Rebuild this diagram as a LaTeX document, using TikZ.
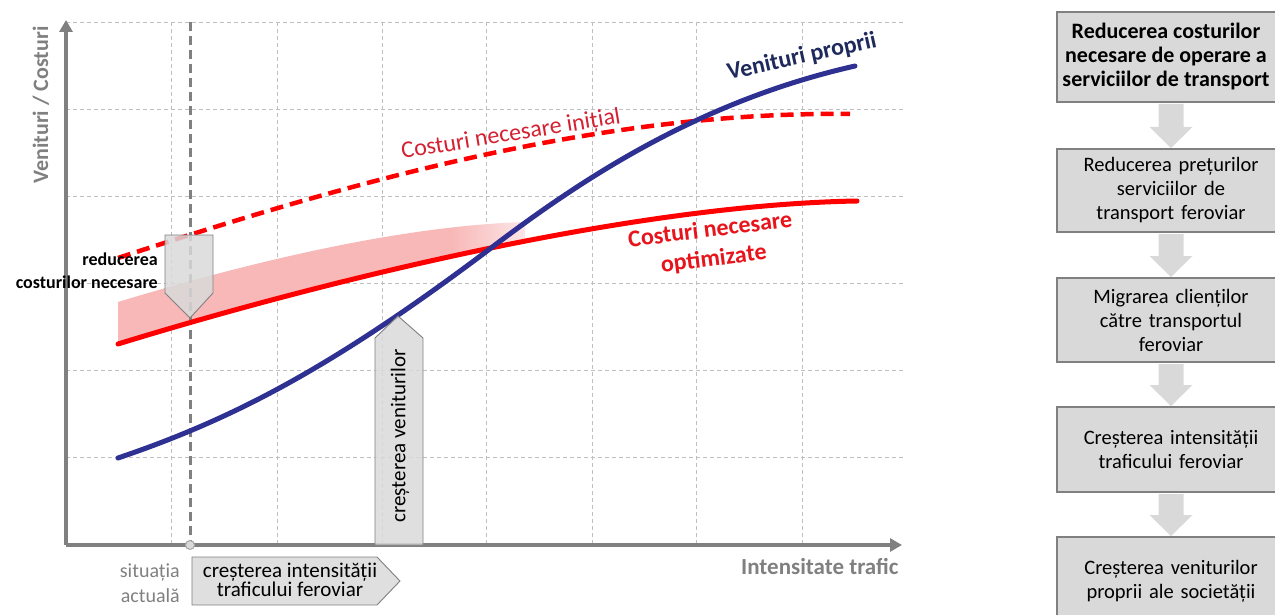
\documentclass[tikz,border=0pt]{standalone}
\usepackage{fontspec}
\setmainfont{Carlito}
\usetikzlibrary{calc,arrows.meta}
\definecolor{gridgray}{HTML}{BFBFBF}
\definecolor{axisgray}{HTML}{808080}
\definecolor{navyline}{HTML}{2E3192}
\definecolor{navytext}{HTML}{1F2A5C}
\definecolor{redline}{HTML}{FF0000}
\definecolor{redtext}{HTML}{D42030}
\definecolor{redbold}{HTML}{E8141C}
\definecolor{bandpink}{HTML}{F8B8B8}
\definecolor{boxgray}{HTML}{D9D9D9}
\pgfdeclarehorizontalshading{bandshade}{100bp}{color(0bp)=(bandpink); color(25bp)=(bandpink); color(66bp)=(bandpink); color(75bp)=(bandpink!35!white); color(100bp)=(bandpink!35!white)}
\newcommand\flowarr[2]{%
  \fill[boxgray] let \p1=(#1.south), \p2=(#2.north) in
   (\x1-12.5pt,\y1-1pt) -- (\x1+12.5pt,\y1-1pt) -- (\x1+12.5pt,\y2+21pt)
   -- (\x1+21.5pt,\y2+21pt) -- (\x1,\y2) -- (\x1-21.5pt,\y2+21pt)
   -- (\x1-12.5pt,\y2+21pt) -- cycle;}
\tikzset{
  gridline/.style={gridgray, line width=0.8pt, dash pattern=on 4pt off 3pt},
  axisline/.style={axisgray, line width=3.5pt, -{Triangle[length=12pt,width=13pt]}},
  curve/.style={line width=5pt, line cap=round},
  tag/.style={fill=boxgray, fill opacity=0.85, draw=axisgray, draw opacity=1, line width=0.9pt},
  txt/.style={inner sep=0pt, font=\fontsize{21}{19}\selectfont, align=center},
  flowbox/.style={draw=axisgray, line width=2pt, fill=boxgray, minimum width=228pt,
     text width=224pt, inner xsep=2pt, align=center, font=\fontsize{20.5}{24}\selectfont}
}
\begin{document}
\begin{tikzpicture}[x=1pt,y=-1pt]
\useasboundingbox (0,0) rectangle (1275,615);
% grid
\foreach \x in {171,277,382,486,592,696,802} \draw[gridline] (\x,22) -- (\x,545);
\foreach \y in {22,109,196,283,370,457} \draw[gridline] (66,\y) -- (905,\y);
% band (clipped above the optimized cost curve)
\begin{scope}
\clip (118,344) .. controls (300,288) and (620,205) .. (857,201) -- (857,0) -- (100,0) -- (100,344) -- cycle;
\shade[shading=bandshade] (118,302) .. controls (250,262) and (400,226) .. (525,222) -- (525,300) -- (118,360) -- cycle;
\end{scope}
% current situation line
\coordinate (now) at (190,545);
\draw[axisgray, line width=3pt, dash pattern=on 9pt off 5pt] (190,22) -- (now);
% curves
\draw[curve, redline] (118,344) .. controls (300,288) and (620,205) .. (857,201);
\draw[redline, line width=4.5pt, dash pattern=on 13pt off 7pt] (118,258) .. controls (350,182) and (600,111) .. (850,114);
\draw[curve, navyline] (118,458) .. controls (230,420) and (330,370) .. (495,245) .. controls (590,173) and (705,100) .. (855,66);
% axes
\coordinate (origin) at (66,545);
\coordinate (ytop) at (66,20);
\coordinate (xend) at (902,545);
\draw[axisline] (origin) -- (ytop);
\draw[axisline] (origin) -- (xend);
\fill[boxgray, draw=axisgray!70, line width=1pt] (now) circle (4.5pt);
% tags
\draw[tag] (165,235) -- (213,235) -- (213,293) -- (190,318) -- (165,293) -- cycle;
\draw[tag] (375,545) -- (375,338) -- (398,316) -- (423,338) -- (423,545) -- cycle;
\draw[tag] (192,557) -- (377,557) -- (400,581) -- (377,605) -- (192,605) -- cycle;
% labels
\node[txt, anchor=east, align=right, font=\fontsize{18}{23}\selectfont\bfseries] (lred) at (158,271) {reducerea\\costurilor necesare};
\node[txt, rotate=90] (lven) at (400,436) {creșterea veniturilor};
\node[txt] (lint) at (290,580) {creșterea intensității\\traficului feroviar};
\node[txt, anchor=east, align=right, text=axisgray, font=\fontsize{20}{25}\selectfont] (lsit) at (180,583) {situația\\actuală};
\node[txt, anchor=west, text=axisgray, font=\fontsize{23}{24}\selectfont\bfseries] (lx) at (741,566) {Intensitate trafic};
\node[txt, rotate=90, text=axisgray, font=\fontsize{22}{24}\selectfont\bfseries] (ly) at (41,105) {Venituri / Costuri};
\node[txt, rotate=12.5, text=navytext, font=\fontsize{24}{24}\selectfont\bfseries] (lvp) at (802,57) {Venituri proprii};
\node[txt, rotate=9.3, text=redtext, font=\fontsize{24}{26}\selectfont] (lci) at (511,135) {Costuri necesare inițial};
\node[txt, rotate=7, text=redbold, font=\fontsize{24}{29}\selectfont\bfseries] (lco) at (712,245) {Costuri necesare\\optimizate};
% flow
\node[flowbox, minimum height=90pt] (b1) at (1171,57) {};
\node[txt, font=\fontsize{22}{24}\selectfont\bfseries] (t1) at (1166,57) {Reducerea costurilor\\necesare de operare a\\serviciilor de transport};
\node[flowbox, minimum height=83pt] (b2) at (1171,190.5) {Reducerea prețurilor\\serviciilor de\\transport feroviar};
\node[flowbox, minimum height=84pt] (b3) at (1171,320) {Migrarea clienților\\către transportul\\feroviar};
\node[flowbox, minimum height=85pt] (b4) at (1171,449.5) {Creșterea intensității\\traficului feroviar};
\node[flowbox, minimum height=88pt] (b5) at (1171,581) {Creșterea veniturilor\\proprii ale societății};
\flowarr{b1}{b2}
\flowarr{b2}{b3}
\flowarr{b3}{b4}
\flowarr{b4}{b5}
\end{tikzpicture}
\end{document}
